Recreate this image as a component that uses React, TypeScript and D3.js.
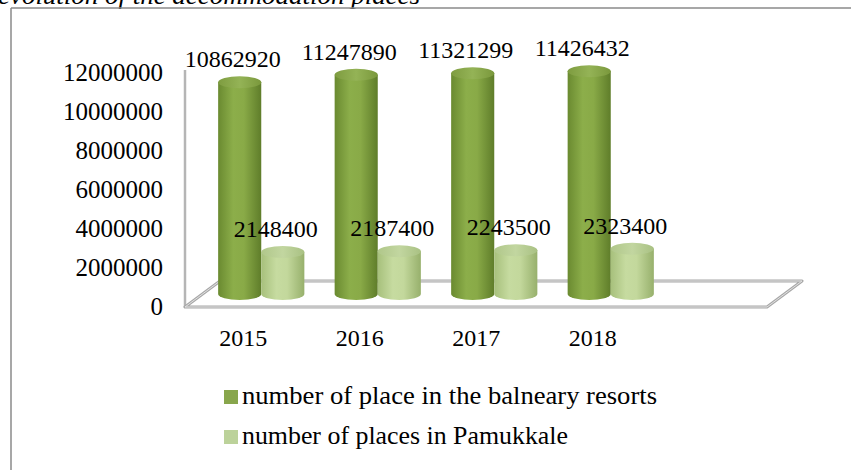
import React from "react";
import * as d3 from "d3";

const years = ["2015", "2016", "2017", "2018"];
const balneary = [10862920, 11247890, 11321299, 11426432];
const pamukkale = [2148400, 2187400, 2243500, 2323400];
const yTicks = [0, 2000000, 4000000, 6000000, 8000000, 10000000, 12000000];
const seriesNames = [
  "number of place in the balneary resorts",
  "number of places in Pamukkale",
];
const titleText = "evolution of the accommodation places";

const W = 851;
const H = 470;
const FONT = "'Liberation Serif', 'Times New Roman', serif";

export default function App() {
  const yAxis = d3.scaleLinear().domain([0, 12000000]).range([307, 73]);
  const barY = d3.scaleLinear().domain([0, 12000000]).range([294, 60]);
  const x = d3
    .scaleBand<string>()
    .domain(years)
    .range([203, 669])
    .paddingInner(0.26)
    .paddingOuter(0.13);
  const xs = d3
    .scaleBand<string>()
    .domain(["b", "p"])
    .range([0, x.bandwidth()]);

  const ry = 6;
  const floor = {
    fl: [185, 307],
    fr: [767, 307],
    br: [802, 281],
    bl: [220, 281],
  };

  const cyl = (x0: number, w: number, yTop: number, yBase: number) => {
    const rx = w / 2;
    return `M${x0},${yTop} L${x0},${yBase} A${rx},${ry} 0 0 0 ${x0 + w},${yBase} L${x0 + w},${yTop} Z`;
  };

  const series = [
    { key: "b", values: balneary, body: "gDark", top: "gDarkTop" },
    { key: "p", values: pamukkale, body: "gLight", top: "gLightTop" },
  ];

  const legendWidths = [415, 326];

  return (
    <svg
      width={W}
      height={H}
      style={{ position: "fixed", left: 0, top: 0, background: "#fff" }}
      fontFamily={FONT}
    >
      <defs>
        <linearGradient id="gDark" x1="0" x2="1" y1="0" y2="0">
          <stop offset="0" stopColor="#6a8a30" />
          <stop offset="0.35" stopColor="#8cae4a" />
          <stop offset="0.6" stopColor="#89aa47" />
          <stop offset="1" stopColor="#5f7d2a" />
        </linearGradient>
        <linearGradient id="gDarkTop" x1="0" x2="1" y1="0" y2="0">
          <stop offset="0" stopColor="#7e9c40" />
          <stop offset="0.5" stopColor="#94b356" />
          <stop offset="1" stopColor="#7a983c" />
        </linearGradient>
        <linearGradient id="gLight" x1="0" x2="1" y1="0" y2="0">
          <stop offset="0" stopColor="#a7c07c" />
          <stop offset="0.35" stopColor="#c6dba0" />
          <stop offset="0.6" stopColor="#c3d89c" />
          <stop offset="1" stopColor="#97b06c" />
        </linearGradient>
        <linearGradient id="gLightTop" x1="0" x2="1" y1="0" y2="0">
          <stop offset="0" stopColor="#b0c78a" />
          <stop offset="0.5" stopColor="#c2d6a0" />
          <stop offset="1" stopColor="#a9c183" />
        </linearGradient>
      </defs>

      {/* title, clipped at top as in the source */}
      <text
        x={-2}
        y={4}
        fontSize={25}
        fontStyle="italic"
        fill="#000"
        textLength={422}
        lengthAdjust="spacingAndGlyphs"
      >
        {titleText}
      </text>

      {/* frame */}
      <line x1={11} y1={8} x2={W} y2={8} stroke="#8a8a8a" strokeWidth={1.5} />
      <line x1={11} y1={8} x2={11} y2={H} stroke="#8a8a8a" strokeWidth={1.5} />

      {/* wall edge */}
      <line x1={185} y1={70} x2={185} y2={307} stroke="#b5b5b5" strokeWidth={2.5} />

      {/* floor */}
      <path
        d={`M${floor.fl[0]},${floor.fl[1]} L${floor.fr[0]},${floor.fr[1]} L${floor.br[0]},${floor.br[1]} L${floor.bl[0]},${floor.bl[1]} Z`}
        fill="#fff"
        stroke="#a8a8a8"
        strokeWidth={3}
        strokeLinejoin="round"
      />
      <path
        d={`M${floor.fl[0]},${floor.fl[1]} L${floor.fr[0]},${floor.fr[1]} L${floor.br[0]},${floor.br[1]} L${floor.bl[0]},${floor.bl[1]} Z`}
        fill="none"
        stroke="#e2e2e2"
        strokeWidth={1}
      />

      {/* y axis labels */}
      {yTicks.map((t) => (
        <text
          key={t}
          x={163}
          y={yAxis(t) + 8}
          fontSize={25}
          textAnchor="end"
          fill="#000"
        >
          {t}
        </text>
      ))}

      {/* bars */}
      {years.map((yr, i) => (
        <g key={yr}>
          {series.map((s) => {
            const x0 = (x(yr) as number) + (xs(s.key) as number);
            const w = xs.bandwidth();
            const yTop = barY(s.values[i]);
            const yBase = barY(0);
            return (
              <g key={s.key}>
                <path d={cyl(x0, w, yTop, yBase)} fill={`url(#${s.body})`} />
                <ellipse
                  cx={x0 + w / 2}
                  cy={yTop}
                  rx={w / 2}
                  ry={ry}
                  fill={`url(#${s.top})`}
                />
              </g>
            );
          })}
        </g>
      ))}

      {/* value labels */}
      {years.map((yr, i) => (
        <g key={`lbl-${yr}`}>
          {series.map((s) => {
            const cx =
              (x(yr) as number) + (xs(s.key) as number) + xs.bandwidth() / 2;
            return (
              <text
                key={s.key}
                x={cx - 7}
                y={barY(s.values[i]) - 15}
                fontSize={24}
                textAnchor="middle"
                fill="#000"
              >
                {s.values[i]}
              </text>
            );
          })}
        </g>
      ))}

      {/* category labels */}
      {years.map((yr) => (
        <text
          key={`cat-${yr}`}
          x={(x(yr) as number) + 25}
          y={346}
          fontSize={24}
          textAnchor="middle"
          fill="#000"
        >
          {yr}
        </text>
      ))}

      {/* legend */}
      {seriesNames.map((name, i) => (
        <g key={name} transform={`translate(224, ${390 + i * 40})`}>
          <rect
            width={14}
            height={14}
            fill={i === 0 ? "#88a64c" : "#bcd29a"}
          />
          <text
            x={18}
            y={14}
            fontSize={24.5}
            fill="#000"
            textLength={legendWidths[i]}
            lengthAdjust="spacingAndGlyphs"
          >
            {name}
          </text>
        </g>
      ))}
    </svg>
  );
}
